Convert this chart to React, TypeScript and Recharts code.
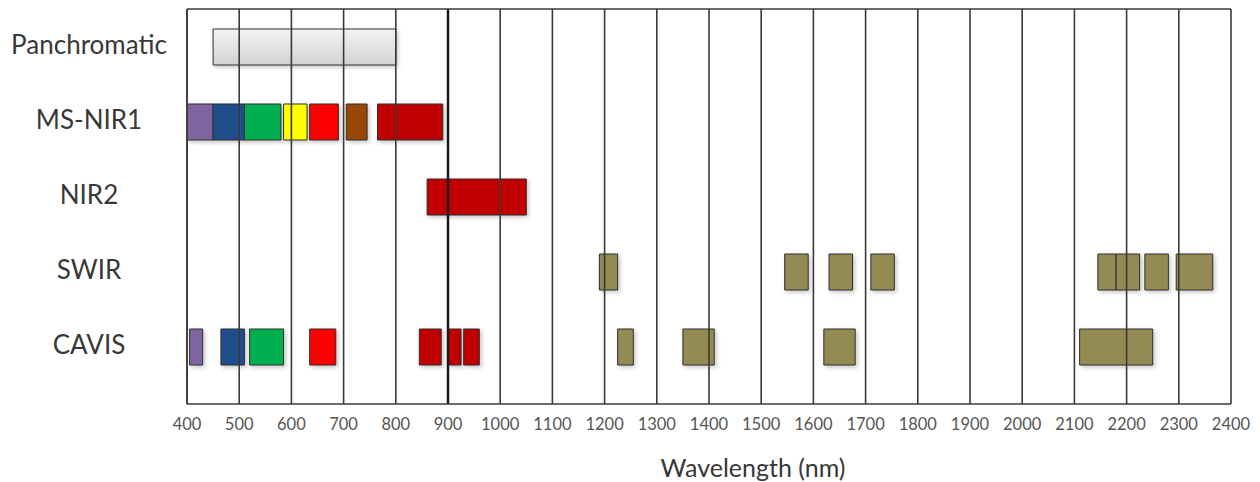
import { BarChart, Bar, XAxis, YAxis, Cell, ReferenceLine } from 'recharts';

// rows, top to bottom
const rowNames = ['Panchromatic', 'MS-NIR1', 'NIR2', 'SWIR', 'CAVIS'];

// spectral bands, [start nm, end nm]
const panchromaticBands = [[450, 800]];
const panchromaticColors = ['url(#panGrad)'];

const msNir1Bands = [[400, 450], [450, 510], [510, 580], [585, 630], [635, 690], [705, 745], [765, 890]];
const msNir1Colors = ['#8064A2', '#1F4E8D', '#00B050', '#FFFF00', '#FF0000', '#984806', '#C00000'];

const nir2Bands = [[860, 1050]];
const nir2Colors = ['#C00000'];

const swirBands = [[1190, 1225], [1545, 1590], [1630, 1675], [1710, 1755], [2145, 2180], [2180, 2225], [2235, 2280], [2295, 2365]];
const swirColors = ['#948A54', '#948A54', '#948A54', '#948A54', '#948A54', '#948A54', '#948A54', '#948A54'];

const cavisBands = [[405, 430], [465, 510], [520, 585], [635, 685], [845, 887], [900, 925], [930, 960], [1225, 1255], [1350, 1410], [1620, 1680], [2110, 2250]];
const cavisColors = ['#8064A2', '#1F4E8D', '#00B050', '#FF0000', '#C00000', '#C00000', '#C00000', '#948A54', '#948A54', '#948A54', '#948A54'];

const xTicks = [400, 500, 600, 700, 800, 900, 1000, 1100, 1200, 1300, 1400, 1500, 1600, 1700, 1800, 1900, 2000, 2100, 2200, 2300, 2400];

const rowBands = [panchromaticBands, msNir1Bands, nir2Bands, swirBands, cavisBands];
const rowColors = [panchromaticColors, msNir1Colors, nir2Colors, swirColors, cavisColors];

const maxSegments = Math.max(...rowBands.map(b => b.length));
const segmentKeys = Array.from({ length: maxSegments }, (_, i) => `s${i}`);

const chartData = rowNames.map((name, r) => {
  const row: Record<string, unknown> = { name };
  rowBands[r].forEach((band, i) => {
    row[`s${i}`] = band;
  });
  return row;
});

const font = 'Lato, "Open Sans", sans-serif';

function RowTick({ x, y, payload }: { x: number; y: number; payload: { value: string } }) {
  return (
    <text x={x - 90} y={y - 3} textAnchor="middle" dominantBaseline="central" fill="#383838" fontSize={26} fontFamily={font}>
      {payload.value}
    </text>
  );
}

export default function App() {
  return (
    <div style={{ width: 1244, height: 474 }}>
      <style>{`.recharts-bar-rectangle path { filter: drop-shadow(2px 2px 2px rgba(0,0,0,0.22)); }`}</style>
      <svg width={0} height={0} style={{ position: 'absolute' }}>
        <defs>
          <linearGradient id="panGrad" x1="0" y1="0" x2="0" y2="1">
            <stop offset="0%" stopColor="#F4F4F4" />
            <stop offset="100%" stopColor="#D2D2D2" />
          </linearGradient>
        </defs>
      </svg>
      <BarChart
        width={1244}
        height={474}
        data={chartData}
        layout="vertical"
        margin={{ top: 0, right: 21, left: 0, bottom: 0 }}
        barSize={36}
        barGap={-36}
      >
        <XAxis
          type="number"
          domain={[400, 2400]}
          ticks={xTicks}
          interval={0}
          allowDataOverflow
          tickLine={false}
          axisLine={{ stroke: '#3a3a3a', strokeWidth: 1.6 }}
          tick={{ fill: '#555555', fontSize: 16.5, fontFamily: font }}
          tickMargin={8}
          height={78}
          label={{ value: 'Wavelength (nm)', position: 'insideBottom', offset: 5, dx: 44, fill: '#383838', fontSize: 25, fontFamily: font }}
        />
        <XAxis
          xAxisId="top"
          orientation="top"
          type="number"
          domain={[400, 2400]}
          allowDataOverflow
          tick={false}
          tickLine={false}
          height={1}
          axisLine={{ stroke: '#3a3a3a', strokeWidth: 1.6 }}
        />
        <YAxis
          type="category"
          dataKey="name"
          width={179}
          tickLine={false}
          axisLine={{ stroke: '#3a3a3a', strokeWidth: 1.6 }}
          tick={RowTick}
          padding={{ top: 0, bottom: 20 }}
          interval={0}
        />
        {segmentKeys.map((key, i) => (
          <Bar key={key} dataKey={key} isAnimationActive={false} stroke="#2e2e2e" strokeWidth={1}>
            {rowColors.map((colors, r) => (
              <Cell key={r} fill={colors[i] ?? 'none'} />
            ))}
          </Bar>
        ))}
        {xTicks.map(t => (
          <ReferenceLine key={t} x={t} stroke={t === 900 ? '#1a1a1a' : '#3a3a3a'} strokeWidth={t === 900 ? 2.5 : 1.6} />
        ))}
      </BarChart>
    </div>
  );
}
